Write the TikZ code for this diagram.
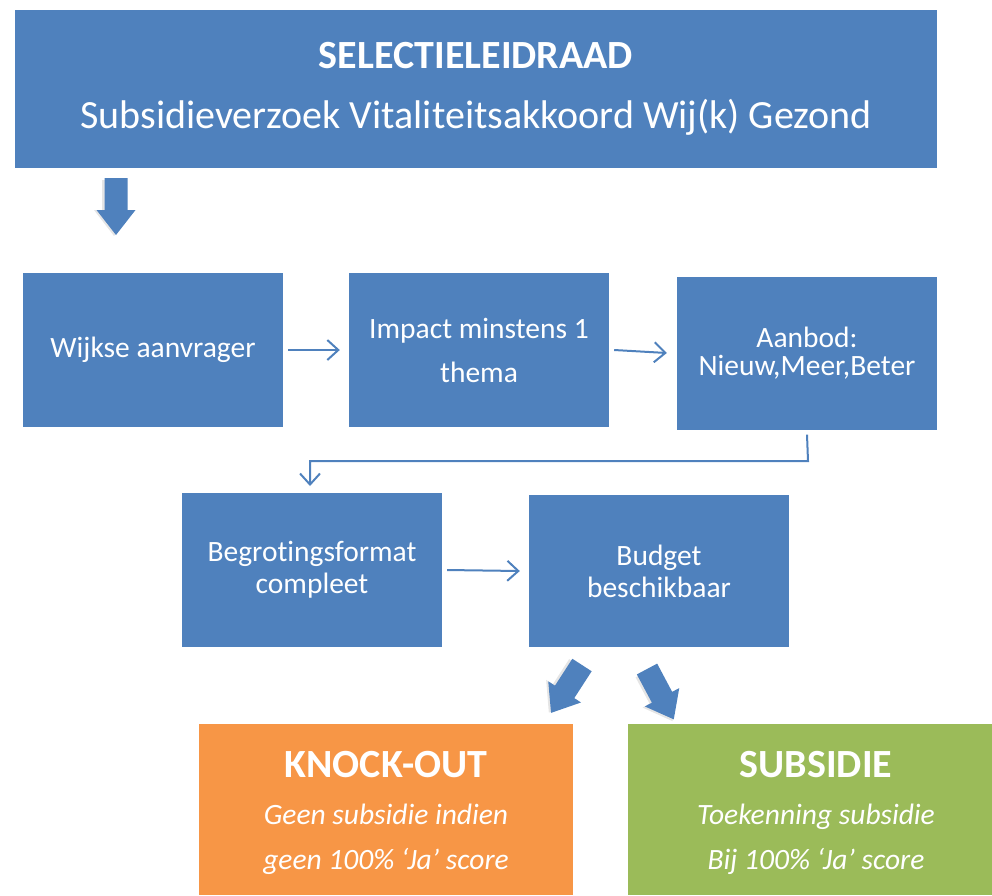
\documentclass[tikz,border=0pt]{standalone}
\usepackage{fontspec}
\setmainfont{Carlito}[Ligatures=NoCommon,RawFeature={-liga;-clig;-dlig}]
\usetikzlibrary{arrows.meta}
\definecolor{bblue}{HTML}{4F81BD}
\definecolor{borange}{HTML}{F79646}
\definecolor{bgreen}{HTML}{9BBB59}
\tikzset{
  fillbox/.style={fill=bblue, draw=none, text=white, align=center, inner sep=0pt},
  stepbox/.style={fillbox, minimum width=260pt, minimum height=154pt},
  thinarrow/.style={draw=bblue, line width=2pt, -{Straight Barb[length=11pt,width=20pt]}},
}
\newcommand{\myblockarrow}[2]{%
  \begin{scope}[shift={(#1)}, rotate=#2]
    \fill[black!20, opacity=0.5] (2,-10) -- (32,-10) -- (32,-18) -- (58,2) -- (32,22) -- (32,14) -- (2,14) -- cycle;
    \fill[bblue] (0,-11.5) -- (32,-11.5) -- (32,-19.5) -- (57,0) -- (32,19.5) -- (32,11.5) -- (0,11.5) -- cycle;
  \end{scope}}
\begin{document}
\begin{tikzpicture}[x=1pt,y=-1pt]
\useasboundingbox (0,0) rectangle (992,895);
% title
\node[fillbox, minimum width=922pt, minimum height=158pt, font=\fontsize{40}{60}\selectfont] (title) at (476,89)
  {\textbf{SELECTIELEIDRAAD}\\Subsidieverzoek Vitaliteitsakkoord Wij(k) Gezond};
% block arrow down
\myblockarrow{116,178}{-90}
% steps
\node[stepbox, font=\fontsize{29.5}{32}\selectfont] (na) at (153,350) {Wijkse aanvrager};
\node[stepbox, font=\fontsize{29.5}{44}\selectfont] (nb) at (479,350) {Impact minstens 1\\thema};
\node[stepbox, minimum height=153pt, font=\fontsize{29.5}{28}\selectfont] (nc) at (807,353) {Aanbod:\\Nieuw,Meer,Beter};
\node[stepbox, font=\fontsize{29.5}{32}\selectfont] (nd) at (312,570) {Begrot\kern0pt ingsformat\\compleet};
\node[stepbox, minimum height=152pt, font=\fontsize{29.5}{32}\selectfont] (ne) at (659,571) {Budget\\beschikbaar};
% connectors
\draw[thinarrow] ([xshift=5pt]na.east) -- ([xshift=-9pt]nb.west);
\draw[thinarrow] ([xshift=5pt]nb.east) -- ([xshift=-10pt]nc.west);
\coordinate (bend) at (808,461);
\coordinate (bend2) at (310,461);
\coordinate (endd) at (310,486);
\draw[thinarrow] ([yshift=-5pt]nc.south) -- (bend) -- (bend2) -- (endd);
\draw[thinarrow] ([xshift=5pt]nd.east) -- ([xshift=-9pt]ne.west);
% block arrows to outcomes
\myblockarrow{582,665}{-122.9}
\myblockarrow{647,669}{-62}
% outcomes
\node[fillbox, fill=borange, minimum width=374pt, minimum height=171pt, font=\fontsize{29.5}{45}\selectfont] (ko) at (386,809.5)
  {\raisebox{0pt}[34pt][0pt]{\fontsize{40}{40}\selectfont\textbf{KNOCK-OUT}}\\[2pt]\textit{Geen subsidie indien}\\\textit{geen 100\% ‘Ja’ score}};
\node[fillbox, fill=bgreen, minimum width=376pt, minimum height=171pt, font=\fontsize{29.5}{45}\selectfont] (sub) at (816,809.5)
  {\raisebox{0pt}[34pt][0pt]{\fontsize{40}{40}\selectfont\textbf{SUBSIDIE}}\\[2pt]\textit{Toekenning subsidie}\\\textit{Bij 100\% ‘Ja’ score}};
\end{tikzpicture}
\end{document}
